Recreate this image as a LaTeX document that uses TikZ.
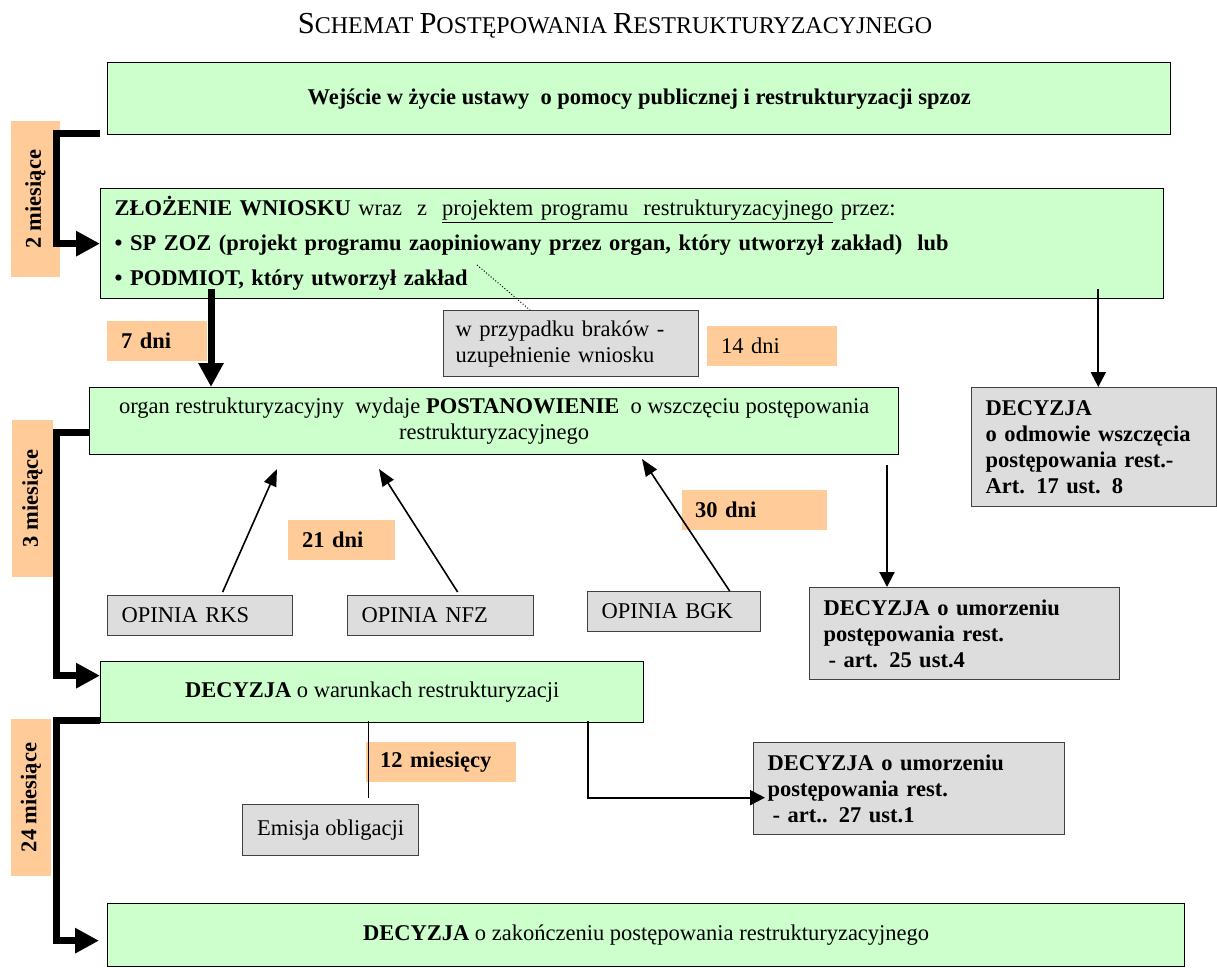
\documentclass[tikz,border=0pt]{standalone}
\usepackage{fontspec}
\setmainfont{Liberation Serif}
\usetikzlibrary{arrows.meta}

\definecolor{boxgreen}{HTML}{CCFFCC}
\definecolor{boxgrey}{HTML}{DDDDDD}
\definecolor{boxorange}{HTML}{FFCC99}

\newcommand{\boxfont}{\fontsize{22.5}{26}\selectfont}
\newcommand{\fakesc}[2]{{\fontsize{30.5}{32}\selectfont #1}{\fontsize{24}{32}\selectfont #2}}

\tikzset{
  greenbox/.style={draw, line width=1.3pt, fill=boxgreen, anchor=north west,
    inner xsep=14pt, inner ysep=0pt, font=\boxfont},
  greybox/.style={draw=black!75, line width=1.3pt, fill=boxgrey, anchor=north west,
    inner xsep=14pt, inner ysep=0pt, font=\boxfont},
  timebox/.style={fill=boxorange, anchor=north west, inner xsep=14pt, inner ysep=0pt,
    minimum height=40pt, font=\boxfont\bfseries},
  bigarrow/.style={line width=7pt, -{Triangle[length=24pt,width=24pt]}},
  midarrow/.style={line width=2.2pt, -{Triangle[length=15pt,width=15pt]}},
  opinarrow/.style={line width=1.6pt, -{Triangle[length=17pt,width=13pt]}}
}

\begin{document}
\begin{tikzpicture}[x=1pt,y=-1pt]
  \useasboundingbox (0,0) rectangle (1217,968);

  % title
  \node[font=\fontsize{24}{32}\selectfont] (title) at (615,26)
    {\fakesc{S}{CHEMAT} \fakesc{P}{OSTĘPOWANIA} \fakesc{R}{ESTRUKTURYZACYJNEGO}};

  % time spans (behind the lines)
  \node[timebox, anchor=center, rotate=90, inner xsep=0pt, minimum width=156pt, minimum height=49pt] (m2) at (35.5,199) {2 miesiące};
  \node[timebox, anchor=center, rotate=90, inner xsep=0pt, minimum width=157pt, minimum height=41pt] (m3) at (32.5,498.5) {3 miesiące};
  \node[timebox, anchor=center, rotate=90, inner xsep=0pt, minimum width=157pt, minimum height=40pt] (m24) at (31,797.5) {24 miesiące};
  \node[timebox, minimum width=100pt, text width=72pt, align=left] (d7) at (107,321) {7 dni};
  \node[timebox, minimum width=130pt, text width=102pt, align=left, font=\boxfont] (d14) at (707,326) {14 dni};
  \node[timebox, minimum width=107pt, text width=79pt, align=left] (d21) at (288,520) {21 dni};
  \node[timebox, minimum width=145pt, align=left, inner xsep=13pt, text width=119pt] (d30) at (682,490) {30 dni};
  \node[timebox, minimum width=150pt, text width=122pt, align=left] (m12) at (366,742) {12 miesięcy};

  % main steps
  \node[greenbox, minimum width=1063pt, minimum height=72pt, font=\boxfont\bfseries] (enter) at (107,62)
    {Wejście w życie ustawy\ \ o pomocy publicznej i restrukturyzacji spzoz};
  \node[greenbox, minimum width=1063pt, minimum height=110pt, text width=1035pt, align=left,
    font=\fontsize{22.5}{35}\selectfont] (submit) at (100,188)
    {\textbf{ZŁOŻENIE WNIOSKU} wraz\ \ z\ \ \underline{projektem programu\ \ restrukturyzacyjnego} przez:\\
     \textbf{\textbullet\ SP ZOZ (projekt programu zaopiniowany przez organ, który utworzył zakład)\ \ lub}\\
     \textbf{\textbullet\ PODMIOT, który utworzył zakład}};
  \node[greenbox, minimum width=809pt, minimum height=67pt, align=center] (organ) at (89,387)
    {organ restrukturyzacyjny\ \ wydaje \textbf{POSTANOWIENIE}\ \ o wszczęciu postępowania\\restrukturyzacyjnego};
  \node[greenbox, minimum width=543pt, minimum height=61pt] (warunki) at (100,661)
    {\textbf{DECYZJA} o warunkach restrukturyzacji};
  \node[greenbox, minimum width=1077pt, minimum height=63pt] (koniec) at (107,903)
    {\textbf{DECYZJA} o zakończeniu postępowania restrukturyzacyjnego};

  % side boxes
  \node[greybox, minimum width=255pt, minimum height=66pt, align=left, inner xsep=12pt, text width=231pt] (braki) at (443,310)
    {w przypadku braków -\\uzupełnienie wniosku};
  \node[greybox, minimum width=185pt, minimum height=40pt, text width=157pt, align=left] (rks) at (107,595) {OPINIA RKS};
  \node[greybox, minimum width=186pt, minimum height=40pt, text width=158pt, align=left] (nfz) at (347,595) {OPINIA NFZ};
  \node[greybox, minimum width=173pt, minimum height=40pt, text width=145pt, align=left] (bgk) at (587,591) {OPINIA BGK};
  \node[greybox, minimum width=245pt, minimum height=119pt, text width=217pt, align=left, font=\boxfont\bfseries] (odmowa) at (971,387)
    {DECYZJA\\o odmowie wszczęcia\\postępowania rest.-\\Art. 17 ust. 8};
  \node[greybox, minimum width=310pt, minimum height=92pt, text width=282pt, align=left, font=\boxfont\bfseries] (umorz25) at (809,587)
    {DECYZJA o umorzeniu\\postępowania rest.\\\hspace*{5pt}- art. 25 ust.4};
  \node[greybox, minimum width=311pt, minimum height=92pt, text width=283pt, align=left, font=\boxfont\bfseries] (umorz27) at (753,742)
    {DECYZJA o umorzeniu\\postępowania rest.\\\hspace*{5pt}- art.. 27 ust.1};
  \node[greybox, minimum width=176pt, minimum height=51pt] (emisja) at (242,804) {Emisja obligacji};

  % free ends
  \coordinate (dotstart) at (477,265);
  \coordinate (tipR) at (277,469);
  \coordinate (tipN) at (379,469);
  \coordinate (tipB) at (642,459);
  \coordinate (u25) at (887,465);

  % time brackets
  \draw[bigarrow] ([xshift=-7pt,yshift=2pt]enter.south west) -- ++(-44,0) |- (submit.west);
  \draw[bigarrow] ([yshift=-45pt]organ.north west) -- ++(-33,0) |- ([yshift=16.5pt]warunki.west);
  \draw[bigarrow] ([yshift=3pt]warunki.south west) -- ++(-44,0) |- ([xshift=-8pt,yshift=-5.5pt]koniec.west);

  % flow
  \draw[bigarrow] ([xshift=111pt,yshift=10pt]submit.south west) coordinate (s7) -- (s7 |- organ.north);
  \draw[midarrow] ([xshift=-66pt,yshift=10pt]submit.south east) coordinate (r1) -- (r1 |- odmowa.north);
  \draw[dotted, line width=1pt] (dotstart) -- ([xshift=87pt]braki.north west);
  \draw[opinarrow] ([xshift=22.5pt,yshift=3pt]rks.north) -- (tipR);
  \draw[opinarrow] ([xshift=17pt,yshift=3pt]nfz.north) -- (tipN);
  \draw[opinarrow] ([xshift=55.5pt]bgk.north) -- (tipB);
  \draw[midarrow] (u25) -- (u25 |- umorz25.north);
  \draw[line width=1.6pt] ([xshift=-3.5pt,yshift=2pt]warunki.south) coordinate (e1) -- ([yshift=6pt]e1 |- emisja.north);
  \draw[midarrow] ([xshift=-56pt,yshift=2pt]warunki.south east) |- ([xshift=12pt,yshift=-9pt]umorz27.west);
\end{tikzpicture}
\end{document}
